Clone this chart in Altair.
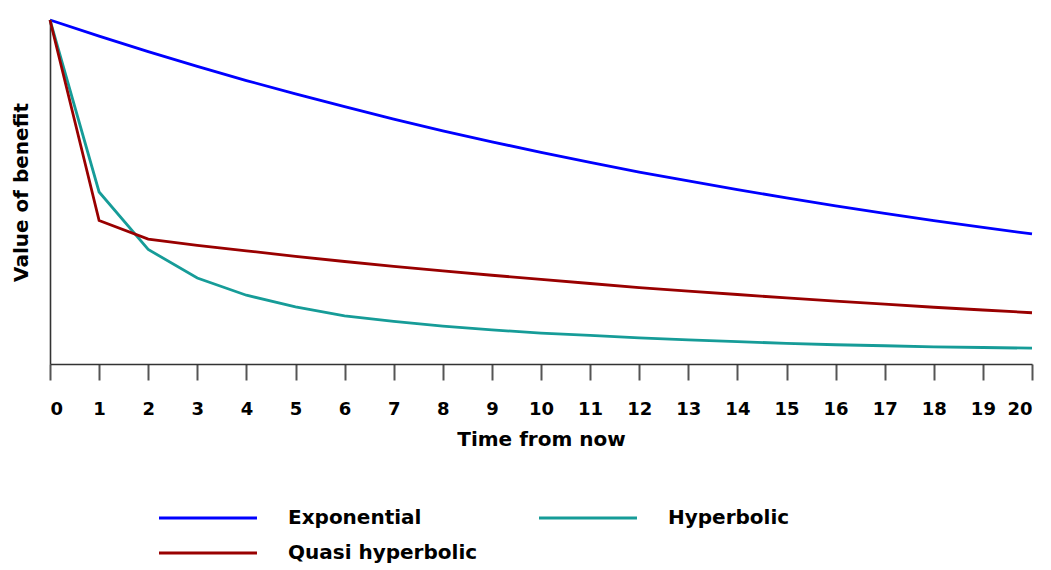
import altair as alt
import pandas as pd

times = list(range(21))
exponential = [1.0, 0.953, 0.908, 0.865, 0.824, 0.785, 0.748, 0.712, 0.678, 0.646, 0.615,
               0.586, 0.558, 0.532, 0.507, 0.483, 0.460, 0.438, 0.417, 0.397, 0.378]
hyperbolic = [1.0, 0.500, 0.333, 0.250, 0.200, 0.166, 0.140, 0.124, 0.110, 0.099, 0.090,
              0.083, 0.076, 0.070, 0.065, 0.060, 0.056, 0.053, 0.050, 0.048, 0.046]
quasi = [1.0, 0.417, 0.363, 0.345, 0.329, 0.313, 0.298, 0.284, 0.271, 0.258, 0.246,
         0.234, 0.222, 0.212, 0.202, 0.192, 0.183, 0.174, 0.165, 0.157, 0.149]
series_names = ["Exponential", "Hyperbolic", "Quasi hyperbolic"]
series_colors = ["#0000ff", "#169c98", "#990000"]
# legend fills column by column: first column Exponential / Quasi hyperbolic
legend_order = ["Exponential", "Quasi hyperbolic", "Hyperbolic"]
legend_colors = ["#0000ff", "#990000", "#169c98"]

rows = []
for name, vals in zip(series_names, [exponential, hyperbolic, quasi]):
    for t, v in zip(times, vals):
        rows.append({"t": t, "value": v, "series": name})
df = pd.DataFrame(rows)

FONT = "DejaVu Sans"

chart = alt.Chart(df).mark_line(strokeWidth=2.8).encode(
    x=alt.X("t:Q", title="Time from now",
            scale=alt.Scale(domain=[0, 20], nice=False, zero=False),
            axis=alt.Axis(values=times, format="d", grid=False,
                          domainColor="#333", domainWidth=1.6,
                          tickColor="#555", tickWidth=2, tickSize=16,
                          labelFont=FONT, labelFontWeight="bold", labelFontSize=18,
                          labelColor="#000", labelPadding=20,
                          titleFont=FONT, titleFontWeight="bold", titleFontSize=20,
                          titleColor="#000", titlePadding=11)),
    y=alt.Y("value:Q", title="Value of benefit",
            scale=alt.Scale(domain=[0, 1], nice=False),
            axis=alt.Axis(labels=False, ticks=False, grid=False,
                          domainColor="#333", domainWidth=1.6,
                          titleFont=FONT, titleFontWeight="bold", titleFontSize=20,
                          titleColor="#000", titlePadding=19)),
    color=alt.Color("series:N", sort=legend_order,
                    scale=alt.Scale(domain=legend_order, range=legend_colors),
                    legend=alt.Legend(title=None, orient="none", columns=2,
                                      legendX=144, legendY=484,
                                      symbolType="M-4,0L4,0", symbolSize=600,
                                      symbolStrokeWidth=3,
                                      labelFont=FONT, labelFontWeight="bold",
                                      labelFontSize=20, labelColor="#000",
                                      labelLimit=400,
                                      labelOffset=66, columnPadding=55,
                                      rowPadding=11)),
).properties(
    width=982, height=344,
    padding={"left": 3, "top": 6, "right": 0, "bottom": 4},
).configure_view(stroke=None)

chart.save("out.html", embed_options={"renderer": "svg", "actions": False})
